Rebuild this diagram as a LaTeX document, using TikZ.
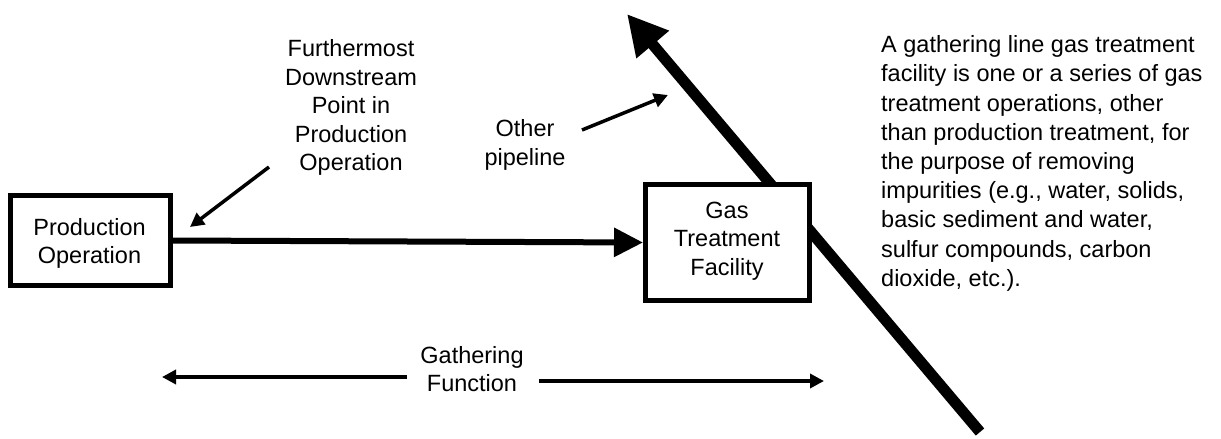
\documentclass[tikz,border=0pt]{standalone}
\usepackage{fontspec}
\setmainfont{Liberation Sans}
\usetikzlibrary{arrows.meta}
\newcommand\ctext[1]{\vtop{\halign{\hfil##\hfil\cr#1\crcr}}}
\newcommand\ltext[1]{\vtop{\halign{##\hfil\cr#1\crcr}}}
\begin{document}
\begin{tikzpicture}[x=1pt,y=-1pt,
  boxnode/.style={draw, line width=5pt, fill=white, inner sep=0pt},
  lbl/.style={anchor=base, inner sep=0pt, font=\fontsize{23.5}{28.5}\selectfont},
  para/.style={anchor=base west, inner sep=0pt, font=\fontsize{23.5}{29.2}\selectfont},
  thinarrow/.style={line width=3.5pt, -{Triangle[length=14pt,width=14pt]}},
  mainarrow/.style={line width=6pt, -{Triangle[length=29pt,width=28pt]}},
  bigarrow/.style={line width=11pt, -{Triangle[length=40pt,width=40pt]}}
]
\useasboundingbox (0,0) rectangle (1221,439);

% big diagonal pipeline (behind the treatment box)
\coordinate (bigS) at (980,432);
\coordinate (bigT) at (627,14);
\draw[bigarrow] (bigS) -- (bigT);

% boxes
\node[boxnode, minimum width=160pt, minimum height=90pt] (prod) at (90.5,240.5) {};
\node[lbl] (prodtext) at (89.5,235) {\ctext{Production\cr Operation}};
\node[boxnode, minimum width=164pt, minimum height=116pt] (gas) at (727.5,242.5) {};
\node[lbl] (gastext) at (727,218.3) {\ctext{Gas\cr Treatment\cr Facility}};

% main flow arrow
\draw[mainarrow] (prod.east) -- (gas.west);

% labels
\node[lbl] (further) at (351,56.7) {\ctext{Furthermost\cr Downstream\cr Point in\cr Production\cr Operation}};
\coordinate (fA) at (269,167);
\coordinate (fB) at (190,227);
\draw[thinarrow] (fA) -- (fB);

\node[lbl] (other) at (525,136.7) {\ctext{Other\cr pipeline}};
\coordinate (oA) at (582,130);
\coordinate (oB) at (668,95);
\draw[thinarrow] (oA) -- (oB);

\node[lbl] (gath) at (472,363) {\ctext{Gathering\cr Function}};
\coordinate (gL1) at (407,377);
\coordinate (gL2) at (162,377);
\coordinate (gR1) at (539,381);
\coordinate (gR2) at (824,381);
\draw[thinarrow] (gL1) -- (gL2);
\draw[thinarrow] (gR1) -- (gR2);

\node[para] (desc) at (881,52.7) {\ltext{A gathering line gas treatment\cr
facility is one or a series of gas\cr
treatment operations, other\cr
than production treatment, for\cr
the purpose of removing\cr
impurities (e.g., water, solids,\cr
basic sediment and water,\cr
sulfur compounds, carbon\cr
dioxide, etc.).}};
\end{tikzpicture}
\end{document}
